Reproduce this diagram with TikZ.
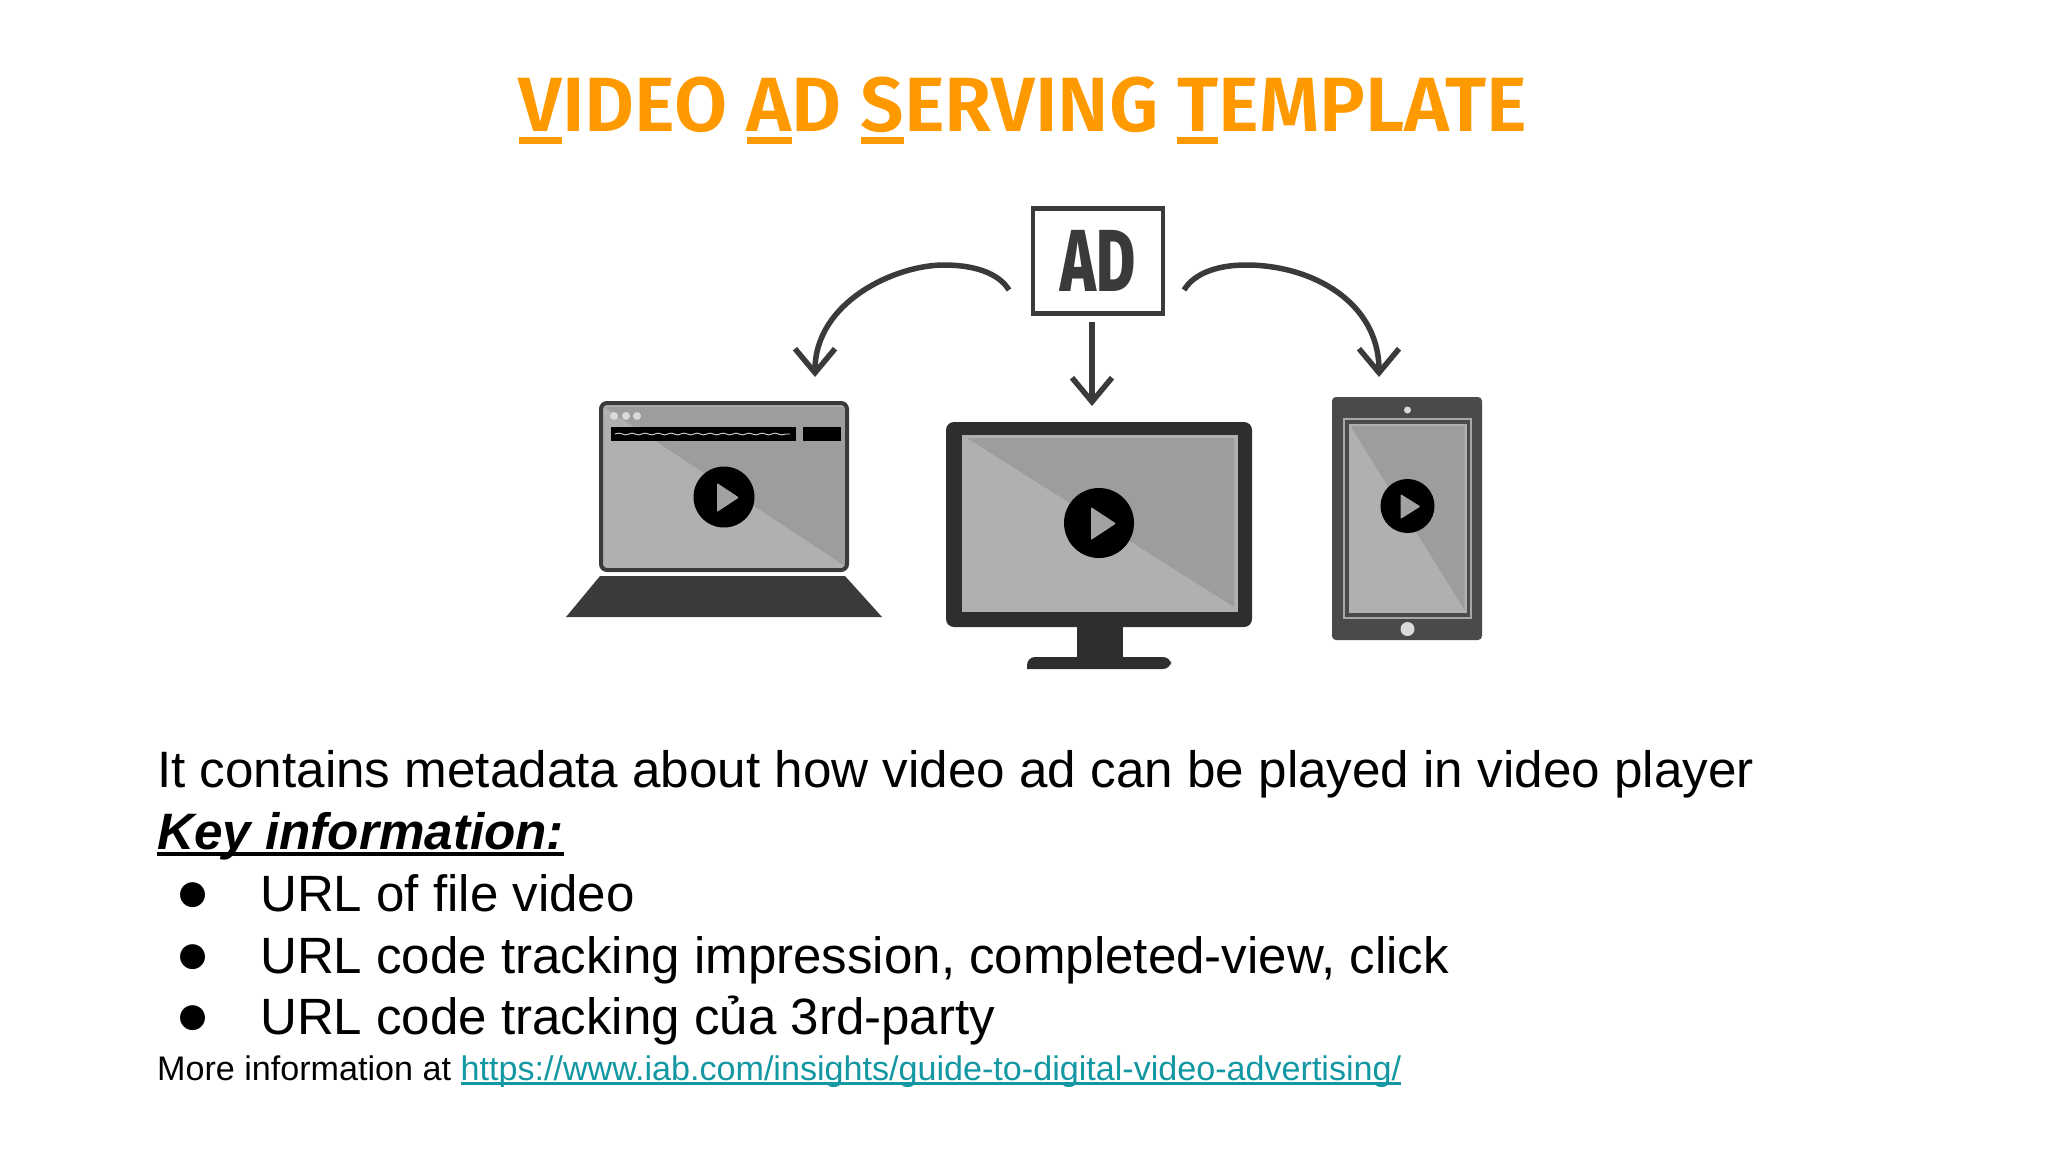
\documentclass[tikz,border=0pt]{standalone}
\usepackage{fontspec}
\usetikzlibrary{arrows.meta, decorations.pathmorphing}
\setmainfont{Liberation Sans}
\newfontfamily\titlefont{Fira Sans SemiBold}
\newfontfamily\adfont{Fira Sans ExtraBold}
\definecolor{titleorange}{HTML}{FF9900}
\definecolor{linkteal}{HTML}{1297A3}
\definecolor{inkgrey}{HTML}{3A393B}
\definecolor{tabletgrey}{HTML}{4A494B}
\definecolor{monitorgrey}{HTML}{2F2D2F}
\definecolor{screenlight}{HTML}{B0AFB1}
\definecolor{screendark}{HTML}{9D9C9E}
\definecolor{dotgrey}{HTML}{DADADA}
% letter or phrase with a bar under it: depth, thickness, text
\newsavebox{\ulsave}
\newcommand{\barunder}[3]{\sbox{\ulsave}{#3}\rlap{\rule[-#1]{\wd\ulsave}{#2}}\usebox{\ulsave}}
% black disc and play triangle: centre x, y, radius, then triangle left x, top y, bottom y, tip x
\newcommand{\playbutton}[7]{%
  \fill[black] (#1,#2) circle (#3);
  \fill[playtri] (#4,#5) -- (#4,#6) -- (#7,{(#5+#6)/2}) -- cycle;}
\tikzset{
  playtri/.style={fill=screenlight!92!black, rounded corners=1pt},
  pointer/.style={draw=inkgrey, line width=5.5pt,
    -{Straight Barb[length=24pt,width=40pt,line width=5.5pt]}},
  bodytext/.style={anchor=base west, inner sep=0pt, font=\fontsize{51.2}{60}\selectfont},
  itemtext/.style={anchor=base west, inner sep=0pt, font=\fontsize{51.05}{60}\selectfont},
  smalltext/.style={anchor=base west, inner sep=0pt, font=\fontsize{34.12}{38}\selectfont},
  bulletmark/.style={anchor=base, inner sep=0pt, font=\fontsize{58}{58}\selectfont},
}
\begin{document}
\begin{tikzpicture}[x=1pt,y=-1pt]
\useasboundingbox (0,0) rectangle (2048,1152);

% title
\node (title) [anchor=base, inner sep=0pt, text=titleorange, font=\titlefont\fontsize{77}{90}\selectfont] at (1023,131.5)
  {\barunder{12pt}{7pt}{V}IDEO \barunder{12pt}{7pt}{A}D \barunder{12pt}{7pt}{S}ERVING \barunder{12pt}{7pt}{T}EMPLATE};

% ad box
\node (ad) [draw=inkgrey, line width=4.5pt, fill=white, minimum width=130pt, minimum height=105pt, inner sep=0pt,
  text=inkgrey, font=\adfont\fontsize{88}{88}\selectfont] at (1098,261) {\scalebox{0.68}[1]{AD}};
\coordinate (adleft) at (1009,290);
\coordinate (adright) at (1184,290);
\coordinate (adbelow) at (1092,322);
\coordinate (laptoptop) at (815,377);
\coordinate (monitortop) at (1092,406);
\coordinate (tablettop) at (1379,377);
\draw[pointer] (adleft) .. controls (998,272) and (972,265) .. (944,265)
  .. controls (895,265) and (815,302) .. (laptoptop);
\draw[pointer] (adright) .. controls (1195,272) and (1220,265) .. (1246,265)
  .. controls (1312,265) and (1379,302) .. (tablettop);
\draw[pointer] (adbelow) -- (monitortop);

% laptop
\fill[screenlight] (601,403) rectangle (847,570);
\fill[screendark] (604,407) -- (845,407) -- (845,566) -- cycle;
\draw[inkgrey, line width=4pt, rounded corners=6pt] (601,403) rectangle (847,570);
\foreach \dotx in {614,626,637} {
  \fill[dotgrey] (\dotx,416) circle (4);
}
\fill[black] (611,427) rectangle (796,441);
\fill[black] (803,427) rectangle (841,441);
\draw[dotgrey, line width=0.9pt, decorate, decoration={snake, amplitude=0.9pt, segment length=13pt}] (615,434) -- (790,434);
\playbutton{724}{497}{30.5}{717}{483}{512}{739}
\fill[inkgrey] (600,576) -- (845,576) -- (882,617) -- (566,617) -- cycle;

% monitor
\fill[monitorgrey] (1077,620) rectangle (1123,660);
\fill[monitorgrey] (1027,669) [rounded corners=8pt] -- (1027,657) -- (1171,657) -- (1171,669) [sharp corners] -- cycle;
\fill[monitorgrey, rounded corners=8pt] (946,422) rectangle (1252,627);
\fill[screenlight] (962,435) rectangle (1238,612);
\fill[screendark] (967,438) -- (1234,438) -- (1234,607) -- cycle;
\playbutton{1099}{523}{35}{1091}{507}{540}{1116}

% tablet
\fill[tabletgrey, rounded corners=4pt] (1332,397) rectangle (1482,640);
\draw[screenlight!110, line width=2pt] (1343.5,419) rectangle (1470.5,618);
\fill[screenlight] (1348.5,424) rectangle (1466.5,613);
\fill[screendark] (1350.5,426) -- (1464.5,426) -- (1464.5,610) -- cycle;
\playbutton{1407.5}{506}{27}{1400.5}{494}{519}{1420.5}
\fill[dotgrey] (1407.5,410) circle (3.5);
\fill[dotgrey] (1407.5,629) circle (7);

% text block
\node (intro) [bodytext] at (157,787) {It contains metadata about how video ad can be played in video player};
\node (key) [bodytext] at (157,849) {\bfseries\itshape\barunder{7pt}{4pt}{Key information:}};
\node (bulleta) [bulletmark] at (193,911) {\char"25CF};
\node (itema) [itemtext] at (260,911) {URL of file video};
\node (bulletb) [bulletmark] at (193,973) {\char"25CF};
\node (itemb) [itemtext] at (260,973) {URL code tracking impression, completed-view, click};
\node (bulletc) [bulletmark] at (193,1034) {\char"25CF};
\node (itemc) [itemtext] at (260,1034) {URL code tracking của 3rd-party};
\node (more) [smalltext] at (157,1080) {More information at \textcolor{linkteal}{\barunder{4.5pt}{2.5pt}{https://www.iab.com/insights/guide-to-digital-video-advertising/}}};
\end{tikzpicture}
\end{document}
